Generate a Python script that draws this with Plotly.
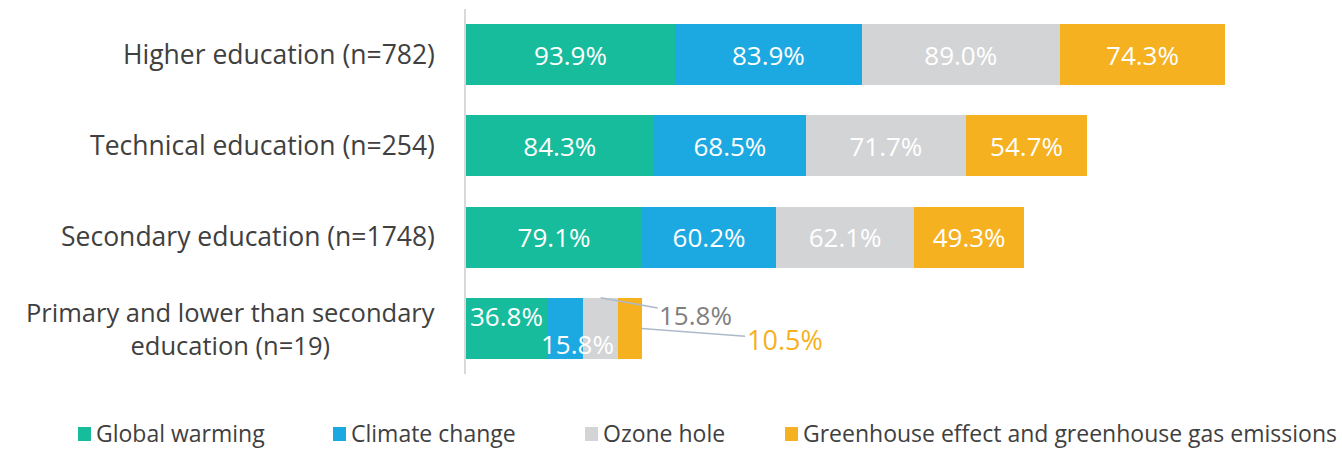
import plotly.graph_objects as go

# survey data: share who recognise each term, by education level
categories = ["Higher education (n=782)", "Technical education (n=254)",
              "Secondary education (n=1748)",
              "Primary and lower than secondary<br>education (n=19)"]
series = ["Global warming", "Climate change", "Ozone hole",
          "Greenhouse effect and greenhouse gas emissions"]
global_warming = [93.9, 84.3, 79.1, 36.8]
climate_change = [83.9, 68.5, 60.2, 15.8]
ozone_hole = [89.0, 71.7, 62.1, 15.8]
greenhouse = [74.3, 54.7, 49.3, 10.5]

colors = ["#17BC9C", "#1CA9E1", "#D3D4D6", "#F5B11F"]
FONT = "Open Sans"

values = [global_warming, climate_change, ozone_hole, greenhouse]

# plot area in pixels (used for the hand made legend / labels)
L, R, T, B = 466, 8, 9, 78
W, H = 1342, 452
PW, PH = W - L - R, H - T - B

def px_x(p):
    return (p - L) / PW

def px_y(q):
    return (H - B - q) / PH

fig = go.Figure()
for name, vals, col in zip(series, values, colors):
    txt = [f"{v:.1f}%" for v in vals[:3]] + [""]  # last row labelled separately
    fig.add_trace(go.Bar(
        y=categories, x=vals, name=name, orientation="h",
        marker=dict(color=col, line=dict(width=0)),
        text=txt, textposition="inside", insidetextanchor="middle",
        textfont=dict(family=FONT, size=26, color="white"),
        constraintext="none", showlegend=False, width=0.67,
    ))

# small row: labels placed by hand like the original
small = [v[3] for v in values]
annos = [
    dict(x=small[0] / 2, y=3, yshift=12, text=f"{small[0]:.1f}%", showarrow=False,
         font=dict(family=FONT, size=26, color="white")),
    dict(x=small[0] + small[1] / 2 + 5.3, y=3, yshift=-16, text=f"{small[1]:.1f}%",
         showarrow=False, font=dict(family=FONT, size=26, color="white")),
    dict(x=small[0] + small[1] + small[2] / 2, y=3 - 0.335, text=f"{small[2]:.1f}%",
         showarrow=True, arrowhead=0, arrowcolor="#ADB9CA", arrowwidth=1.5,
         ax=95, ay=17, standoff=0,
         font=dict(family=FONT, size=26, color="#7F7F7F")),
    dict(x=sum(small), y=3, text=f"{small[3]:.1f}%",
         showarrow=True, arrowhead=0, arrowcolor="#ADB9CA", arrowwidth=1.5,
         ax=143, ay=11, standoff=0,
         font=dict(family=FONT, size=27, color="#F5B11F")),
    # two-line category label, centred
    dict(xref="paper", x=px_x(437), xanchor="right", y=3, text=categories[3],
         showarrow=False, align="center",
         font=dict(family=FONT, size=25.5, color="#404040")),
]

# legend drawn by hand
leg_sym = [78, 333, 585, 785]
shapes = []
for sx, name, col in zip(leg_sym, series, colors):
    shapes.append(dict(type="rect", xref="paper", yref="paper",
                       x0=px_x(sx), x1=px_x(sx + 13), y0=px_y(441), y1=px_y(427),
                       fillcolor=col, line=dict(width=0)))
    annos.append(dict(xref="paper", yref="paper", x=px_x(sx + 16), y=px_y(433),
                      xanchor="left", yanchor="middle", text=name, showarrow=False,
                      font=dict(family=FONT, size=23, color="#404040")))

fig.update_layout(
    barmode="stack", width=W, height=H,
    margin=dict(l=L, r=R, t=T, b=B),
    plot_bgcolor="white", paper_bgcolor="white",
    bargap=0.33, annotations=annos, shapes=shapes,
    xaxis=dict(range=[0, 390], visible=False, showgrid=False),
    yaxis=dict(autorange="reversed", tickvals=categories[:3],
               ticktext=categories[:3], showline=True, linecolor="#D9D9D9",
               linewidth=1.5, showgrid=False, ticks="", ticklabelstandoff=24,
               tickfont=dict(family=FONT, size=26.5, color="#404040")),
)

fig.write_html("out.html", config={"displayModeBar": False},
               post_script="document.body.style.margin='0';")
